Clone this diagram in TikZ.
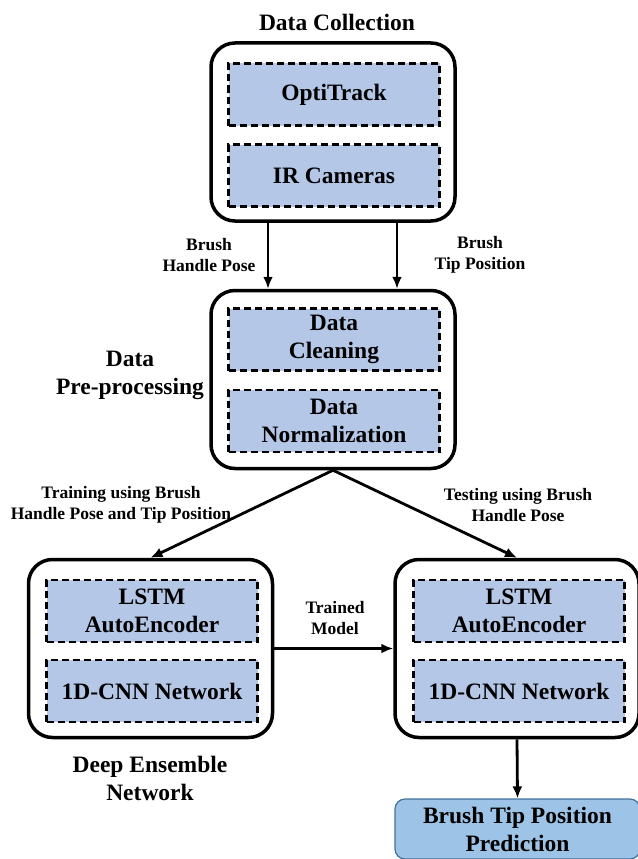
\documentclass[tikz,border=0pt]{standalone}
\usepackage{fontspec}
\setmainfont{Liberation Serif}[BoldFont={Liberation Serif Bold}]
\usetikzlibrary{arrows.meta}

\definecolor{partblue}{HTML}{B4C7E7}
\definecolor{predblue}{HTML}{9DC3E6}
\definecolor{predline}{HTML}{41719C}

\newcommand{\stagefont}{\bfseries\fontsize{23.5}{28}\selectfont}
\newcommand{\notefont}{\bfseries\fontsize{17.5}{21}\selectfont}

\begin{document}
\begin{tikzpicture}[x=1pt, y=-1pt,
  stage/.style={draw, line width=3.5pt, rounded corners=24pt,
    minimum width=244pt, minimum height=178pt},
  part/.style={draw, line width=2.2pt, dash pattern=on 7pt off 4pt,
    fill=partblue, minimum width=211pt, minimum height=62pt,
    font=\stagefont, align=center, inner sep=0pt},
  note/.style={font=\notefont, align=center},
  title/.style={font=\stagefont, align=center},
  flow/.style={line width=2.8pt, -{Latex[length=12pt,width=10pt]}},
]

\useasboundingbox (0,0) rectangle (637,859);

% data collection
\node[title] (colltitle) at (337,22) {Data Collection};
\node[stage] (collect) at (333,132) {};
\node[part] (opti) at (334,94.5) {OptiTrack};
\node[part] (ircam) at (334,175.5) {IR Cameras};

% pre-processing
\node[stage] (prep) at (333,379.5) {};
\node[part] (clean) at (334,339.5) {Data\\Cleaning};
\node[part] (norm) at (334,421) {Data\\Normalization};
\node[title] (preptitle) at (130,375) {Data\\Pre-processing};

% training side
\node[stage] (train) at (150.5,648.5) {};
\node[part] (lstma) at (152,611) {LSTM\\AutoEncoder};
\node[part] (cnna) at (152,691) {1D-CNN Network};
\node[title] (enstitle) at (150,778) {Deep Ensemble\\Network};

% testing side
\node[stage] (test) at (517,648.5) {};
\node[part] (lstmb) at (519,611) {LSTM\\AutoEncoder};
\node[part] (cnnb) at (519,691) {1D-CNN Network};

\node[draw=predline, line width=1.2pt, fill=predblue, rounded corners=10pt,
  minimum width=245pt, minimum height=60pt, font=\stagefont, align=center]
  (pred) at (517.5,829) {Brush Tip Position\\Prediction};

% arrows
\draw[flow] ([xshift=-65pt]collect.south) -- ([xshift=-65pt]prep.north);
\draw[flow] ([xshift=64pt]collect.south) -- ([xshift=64pt]prep.north);
\draw[flow] (prep.south) -- (train.north);
\draw[flow] (prep.south) -- (test.north);
\draw[flow] (train.east) -- (test.west);
\draw[flow] (test.south) -- (pred.north);

% labels
\node[note] (handlelab) at (209,255) {Brush\\Handle Pose};
\node[note] (tiplab) at (480,255) {Brush\\Tip Position};
\node[note] (trainlab) at (121,505) {Training using Brush\\Handle Pose and Tip Position};
\node[note] (testlab) at (518,505) {Testing using Brush\\Handle Pose};
\node[note] (modellab) at (335,618) {Trained\\Model};

\end{tikzpicture}
\end{document}
